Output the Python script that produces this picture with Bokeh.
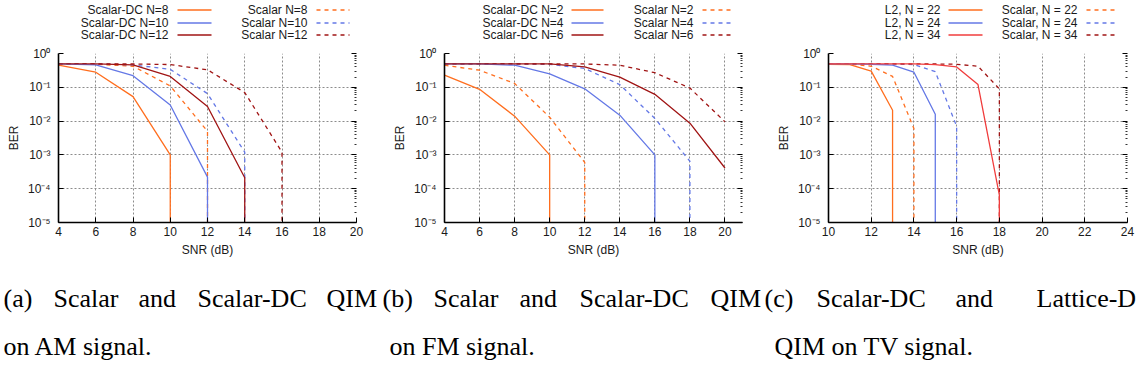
import numpy as np
from bokeh.plotting import figure
from bokeh.models import Range1d, FixedTicker, LogAxis, CustomJSTickFormatter
from bokeh.layouts import column, row
from bokeh.embed import file_html
from bokeh.resources import INLINE
from bokeh.core.properties import value

# ---------------- data ----------------
BER_FLOOR = 1e-5  # zero-error points are drawn down to the bottom of the axis

# (a) AM signal
a_dc8_snr = [4, 6, 8, 10, 10]
a_dc8_ber = [0.45, 0.28, 0.053, 1.0e-3, BER_FLOOR]
a_dc10_snr = [4, 6, 8, 10, 12, 12]
a_dc10_ber = [0.49, 0.46, 0.22, 0.030, 2.2e-4, BER_FLOOR]
a_dc12_snr = [4, 6, 8, 10, 12, 14, 14]
a_dc12_ber = [0.49, 0.49, 0.46, 0.21, 0.027, 2.1e-4, BER_FLOOR]
a_s8_snr = [4, 6, 8, 10, 12, 12]
a_s8_ber = [0.49, 0.48, 0.42, 0.11, 5.0e-3, BER_FLOOR]
a_s10_snr = [4, 6, 8, 10, 12, 14, 14]
a_s10_ber = [0.49, 0.49, 0.46, 0.34, 0.065, 1.2e-3, BER_FLOOR]
a_s12_snr = [4, 6, 8, 10, 12, 14, 16, 16]
a_s12_ber = [0.49, 0.49, 0.49, 0.47, 0.33, 0.07, 1.2e-3, BER_FLOOR]

# (b) FM signal
b_dc2_snr = [4, 6, 8, 10, 10]
b_dc2_ber = [0.23, 0.087, 0.014, 1.0e-3, BER_FLOOR]
b_dc4_snr = [4, 6, 8, 10, 12, 14, 16, 16]
b_dc4_ber = [0.49, 0.49, 0.45, 0.25, 0.09, 0.015, 1.0e-3, BER_FLOOR]
b_dc6_snr = [4, 6, 8, 10, 12, 14, 16, 18, 20]
b_dc6_ber = [0.49, 0.49, 0.49, 0.49, 0.40, 0.20, 0.062, 8.7e-3, 4.1e-4]
b_s2_snr = [4, 6, 8, 10, 12, 12]
b_s2_ber = [0.45, 0.32, 0.13, 0.013, 6.0e-4, BER_FLOOR]
b_s4_snr = [4, 6, 8, 10, 12, 14, 16, 18, 18]
b_s4_ber = [0.49, 0.49, 0.49, 0.48, 0.36, 0.12, 0.012, 6.5e-4, BER_FLOOR]
b_s6_snr = [4, 6, 8, 10, 12, 14, 16, 18, 20]
b_s6_ber = [0.49, 0.49, 0.49, 0.49, 0.49, 0.45, 0.27, 0.095, 9.5e-3]

# (c) TV signal
c_l22_snr = [10, 11, 12, 13, 13]
c_l22_ber = [0.48, 0.47, 0.30, 0.021, BER_FLOOR]
c_l24_snr = [10, 11, 12, 13, 14, 15, 15]
c_l24_ber = [0.49, 0.49, 0.48, 0.45, 0.28, 0.016, BER_FLOOR]
c_l34_snr = [10, 11, 12, 13, 14, 15, 16, 17, 18, 18]
c_l34_ber = [0.49, 0.49, 0.49, 0.49, 0.49, 0.47, 0.40, 0.12, 6.5e-5, BER_FLOOR]
c_s22_snr = [10, 11, 12, 13, 14, 14]
c_s22_ber = [0.49, 0.49, 0.42, 0.21, 6.0e-3, BER_FLOOR]
c_s24_snr = [10, 11, 12, 13, 14, 15, 16, 16]
c_s24_ber = [0.49, 0.49, 0.49, 0.49, 0.47, 0.29, 7.0e-3, BER_FLOOR]
c_s34_snr = [10, 11, 12, 13, 14, 15, 16, 17, 18, 18]
c_s34_ber = [0.49, 0.49, 0.49, 0.49, 0.49, 0.49, 0.48, 0.42, 0.09, BER_FLOOR]

a_labels_dc = ["Scalar-DC N=8", "Scalar-DC N=10", "Scalar-DC N=12"]
a_labels_s = ["Scalar N=8", "Scalar N=10", "Scalar N=12"]
b_labels_dc = ["Scalar-DC N=2", "Scalar-DC N=4", "Scalar-DC N=6"]
b_labels_s = ["Scalar N=2", "Scalar N=4", "Scalar N=6"]
c_labels_l = ["L2, N = 22", "L2, N = 24", "L2, N = 34"]
c_labels_s = ["Scalar, N = 22", "Scalar, N = 24", "Scalar, N = 34"]

a_xticks = [4, 6, 8, 10, 12, 14, 16, 18, 20]
b_xticks = [4, 6, 8, 10, 12, 14, 16, 18, 20]
c_xticks = [10, 12, 14, 16, 18, 20, 22, 24]
y_major = [1e-5, 1e-4, 1e-3, 1e-2, 1e-1, 1e0]

caption_line1 = [["(a)", "Scalar", "and", "Scalar-DC", "QIM"],
                 ["(b)", "Scalar", "and", "Scalar-DC", "QIM"],
                 ["(c)", "Scalar-DC", "and", "Lattice-D"]]
caption_line2 = ["on AM signal.", "on FM signal.", "QIM on TV signal."]

# ---------------- styling ----------------
ORANGE = "#ff6e1e"
BLUE = "#6478e6"
DARKRED = "#a01414"
RED = "#f03c3c"
SANS = "Liberation Sans"
SERIF = "Liberation Serif"
TXT = "#1a1a1a"
LW = 1.3
DASH = "4 4"

W = 1137
LEG_H = 45
PLOT_H = 217
FRAME_H = 169
ROW_Y = [9.5, 22.5, 34.5]

y_minor = [m * 10.0 ** e for e in range(-5, 0) for m in range(2, 10)]

sup_js = """
const e = Math.round(Math.log10(tick));
const m = {'-':'\\u207b','0':'\\u2070','1':'\\u00b9','2':'\\u00b2','3':'\\u00b3',
           '4':'\\u2074','5':'\\u2075','6':'\\u2076','7':'\\u2077','8':'\\u2078','9':'\\u2079'};
return '10' + String(e).split('').map(c => m[c]).join('');
"""

# ---------------- legend strip (all three panels) ----------------
leg = figure(width=W, height=LEG_H, x_range=Range1d(0, W), y_range=Range1d(LEG_H, 0),
             output_backend="svg", toolbar_location=None, min_border=0,
             x_axis_location=None, y_axis_location=None)
leg.grid.visible = False
leg.outline_line_color = None


def add_legend(lab1, col1, lab2, col2, geo):
    t1, s1a, s1b, t2, s2a, s2b = geo
    leg.text(x=[t1] * 3, y=ROW_Y, text=lab1, text_align="right", text_baseline="middle",
             text_font=value(SANS), text_font_size="12px", text_color=TXT)
    leg.text(x=[t2] * 3, y=ROW_Y, text=lab2, text_align="right", text_baseline="middle",
             text_font=value(SANS), text_font_size="12px", text_color=TXT)
    leg.segment(x0=[s1a] * 3, y0=ROW_Y, x1=[s1b] * 3, y1=ROW_Y, line_color=col1, line_width=LW)
    leg.segment(x0=[s2a] * 3, y0=ROW_Y, x1=[s2b] * 3, y1=ROW_Y, line_color=col2, line_width=LW,
                line_dash=DASH)


add_legend(a_labels_dc, [ORANGE, BLUE, DARKRED], a_labels_s, [ORANGE, BLUE, DARKRED],
           (168, 177, 211, 307, 316, 349))
add_legend(b_labels_dc, [ORANGE, BLUE, DARKRED], b_labels_s, [ORANGE, BLUE, DARKRED],
           (563, 571, 603, 693, 702, 733))
add_legend(c_labels_l, [ORANGE, BLUE, RED], c_labels_s, [ORANGE, BLUE, DARKRED],
           (940, 948, 982, 1077, 1086, 1118))


# ---------------- plots ----------------
def plot_fig(width, xr, xticks, left, right, solid, dashed):
    p = figure(width=width, height=PLOT_H, x_range=Range1d(*xr), y_range=Range1d(1e-5, 1.0),
               y_axis_type="log", output_backend="svg", toolbar_location=None,
               min_border_left=left, min_border_right=right, min_border_top=8,
               min_border_bottom=PLOT_H - 8 - FRAME_H)
    p.outline_line_color = None
    p.xaxis.ticker = FixedTicker(ticks=xticks)
    p.yaxis.ticker = FixedTicker(ticks=y_major, minor_ticks=y_minor)
    p.yaxis.formatter = CustomJSTickFormatter(code=sup_js)
    for ax in (p.xaxis[0], p.yaxis[0]):
        ax.axis_line_width = 1.6
        ax.axis_line_color = "black"
        ax.major_tick_in = 5
        ax.major_tick_out = 0
        ax.major_tick_line_color = "black"
        ax.minor_tick_line_color = None
        ax.major_label_text_font = SANS
        ax.major_label_text_font_size = "12px"
        ax.major_label_text_color = TXT
        ax.axis_label_text_font = SANS
        ax.axis_label_text_font_size = "12px"
        ax.axis_label_text_font_style = "normal"
        ax.axis_label_text_color = TXT
        ax.major_label_standoff = 4
        ax.axis_label_standoff = 4
    p.xaxis.axis_label = "SNR (dB)"
    p.yaxis.axis_label = "BER"
    right_ax = LogAxis(ticker=FixedTicker(ticks=y_major, minor_ticks=y_minor),
                       formatter=CustomJSTickFormatter(code="return ''"),
                       axis_line_color=None, major_tick_in=5, major_tick_out=0,
                       minor_tick_in=2, minor_tick_out=0, major_label_standoff=0,
                       major_tick_line_color="black", minor_tick_line_color="#333333")
    p.add_layout(right_ax, "right")
    for g in p.grid:
        g.grid_line_color = "#8c8c8c"
        g.grid_line_dash = "2 2"
        g.grid_line_width = 1
    for xs, ys, c in dashed:
        p.line(xs, ys, line_color=c, line_width=LW, line_dash=DASH)
    for xs, ys, c in solid:
        p.line(xs, ys, line_color=c, line_width=LW)
    return p


plt_a = plot_fig(386, (4, 20), a_xticks, 58, 30,
                 [(a_dc8_snr, a_dc8_ber, ORANGE), (a_dc10_snr, a_dc10_ber, BLUE),
                  (a_dc12_snr, a_dc12_ber, DARKRED)],
                 [(a_s8_snr, a_s8_ber, ORANGE), (a_s10_snr, a_s10_ber, BLUE),
                  (a_s12_snr, a_s12_ber, DARKRED)])
plt_b = plot_fig(384, (4, 21), b_xticks, 58, 28,
                 [(b_dc2_snr, b_dc2_ber, ORANGE), (b_dc4_snr, b_dc4_ber, BLUE),
                  (b_dc6_snr, b_dc6_ber, DARKRED)],
                 [(b_s2_snr, b_s2_ber, ORANGE), (b_s4_snr, b_s4_ber, BLUE),
                  (b_s6_snr, b_s6_ber, DARKRED)])
plt_c = plot_fig(367, (10, 24), c_xticks, 58, 10,
                 [(c_l22_snr, c_l22_ber, ORANGE), (c_l24_snr, c_l24_ber, BLUE),
                  (c_l34_snr, c_l34_ber, RED)],
                 [(c_s22_snr, c_s22_ber, ORANGE), (c_s24_snr, c_s24_ber, BLUE),
                  (c_s34_snr, c_s34_ber, DARKRED)])

# ---------------- captions ----------------
CAP_TOP = LEG_H + PLOT_H
cap = figure(width=W, height=379 - CAP_TOP, x_range=Range1d(0, W), y_range=Range1d(379, CAP_TOP),
             output_backend="svg", toolbar_location=None, min_border=0,
             x_axis_location=None, y_axis_location=None)
cap.grid.visible = False
cap.outline_line_color = None
line1_x = [[3, 53, 138, 197, 326],
           [382, 433, 519, 579, 710],
           [764, 816, 955, 1036]]
words, xs = [], []
for wl, xl in zip(caption_line1, line1_x):
    words += wl
    xs += xl
cap.text(x=xs, y=[298] * len(xs), text=words, text_align="left",
         text_baseline="middle", text_font=value(SERIF), text_font_size="26px", text_color="black")
cap.text(x=[3, 389, 774], y=[346] * 3, text=caption_line2, text_align="left", text_baseline="middle",
         text_font=value(SERIF), text_font_size="26px", text_color="black")

layout = column(leg, row(plt_a, plt_b, plt_c), cap)
open("out.html", "w").write(file_html(layout, INLINE))
